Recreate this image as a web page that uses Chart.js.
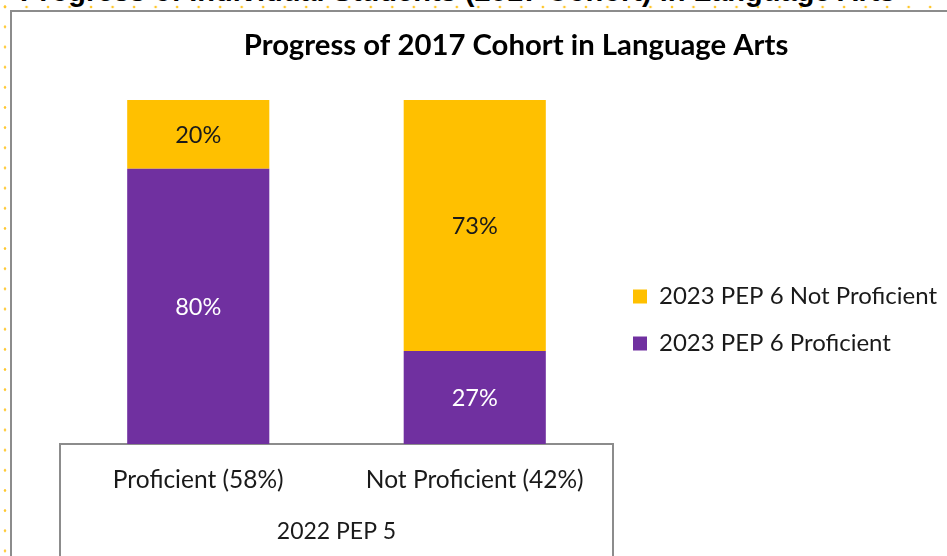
<!DOCTYPE html>
<html>
<head>
<meta charset="utf-8">
<script src="https://cdn.jsdelivr.net/npm/chart.js@4"></script>
<style>
html,body{margin:0;padding:0;background:#fff;width:947px;height:556px;overflow:hidden;}
#page{position:relative;width:947px;height:556px;overflow:hidden;}
#topText{position:absolute;left:20px;top:-23px;font:bold 29px "Liberation Sans",Arial,sans-serif;color:#000;white-space:nowrap;line-height:29px;}
#box{position:absolute;left:10px;top:10px;width:980px;height:600px;border-left:2px solid #8c8c8c;border-top:2px solid #8c8c8c;}
#dotsV{position:absolute;left:3px;top:0;width:4px;height:556px;background-image:radial-gradient(circle, #ffc72c 0.9px, rgba(255,199,44,0) 1.7px);background-size:4px 20.17px;background-position:0 -3.4px;}
#dotsH{position:absolute;left:0;top:5px;width:947px;height:4px;background-image:radial-gradient(circle, #ffc72c 0.9px, rgba(255,199,44,0) 1.7px);background-size:21.53px 4px;background-position:-5.77px 0;}
#c{position:absolute;left:0;top:0;}
</style>
</head>
<body>
<div id="page">
  <div id="dotsV"></div>
  <div id="dotsH"></div>
  <div id="topText">Progress of Individual Students (2017 Cohort) in Language Arts</div>
  <div id="box"></div>
  <canvas id="c" width="972" height="556"></canvas>
</div>
<script>
const categories = ["Proficient (58%)", "Not Proficient (42%)"];
const proficient2023 = [80, 27];
const notProficient2023 = [20, 73];
const seriesNames = ["2023 PEP 6 Proficient", "2023 PEP 6 Not Proficient"];
const groupLabel = "2022 PEP 5";
const chartTitle = "Progress of 2017 Cohort in Language Arts";

const valueLabels = {
  id: 'valueLabels',
  afterDatasetsDraw(chart) {
    const ctx = chart.ctx;
    chart.data.datasets.forEach((ds, i) => {
      const meta = chart.getDatasetMeta(i);
      meta.data.forEach((bar, j) => {
        const v = ds.data[j];
        const y = (bar.y + bar.base) / 2;
        ctx.save();
        ctx.font = '23.5px Lato';
        ctx.fillStyle = ds.labelColor;
        ctx.textAlign = 'center';
        ctx.textBaseline = 'middle';
        ctx.fillText(v + '%', bar.x, y + 1);
        ctx.restore();
      });
    });
  }
};

const axisBox = {
  id: 'axisBox',
  afterDraw(chart) {
    const x = chart.scales.x;
    const ctx = chart.ctx;
    ctx.save();
    ctx.strokeStyle = '#8c8c8c';
    ctx.lineWidth = 2;
    ctx.beginPath();
    [x.left, x.right].forEach(px => { ctx.moveTo(px, x.top - 1); ctx.lineTo(px, chart.height); });
    ctx.stroke();
    ctx.restore();
  }
};

const legendShift = {
  id: 'legendShift',
  afterLayout(chart) {
    const lg = chart.legend;
    lg.top += 42;
    lg.bottom += 42;
    lg.left -= 3;
    lg.right -= 3;
  }
};

function draw() {
  new Chart(document.getElementById('c'), {
    type: 'bar',
    data: {
      labels: categories,
      datasets: [
        { label: seriesNames[0], data: proficient2023, backgroundColor: '#7030A0', borderWidth: 0, labelColor: '#ffffff',
          barPercentage: 0.514, categoryPercentage: 1 },
        { label: seriesNames[1], data: notProficient2023, backgroundColor: '#FFC000', borderWidth: 0, labelColor: '#1a1a1a',
          barPercentage: 0.514, categoryPercentage: 1 }
      ]
    },
    options: {
      responsive: false,
      animation: false,
      devicePixelRatio: 1,
      layout: { padding: { left: 60, right: 0, top: 0, bottom: 0 } },
      plugins: {
        title: {
          display: true, text: chartTitle, color: '#000',
          font: { family: 'Lato', size: 29.3, weight: 'bold', lineHeight: 1.2 },
          padding: { top: 28.4, bottom: 36.4 }
        },
        legend: {
          position: 'right', reverse: true, maxWidth: 334,
          labels: { boxWidth: 14, boxHeight: 14, padding: 23, color: '#1a1a1a',
            font: { family: 'Lato', size: 24 } }
        },
        tooltip: { enabled: false }
      },
      scales: {
        x: {
          stacked: true,
          grid: { display: false, drawTicks: false },
          border: { display: true, color: '#8c8c8c', width: 2 },
          ticks: { color: '#1a1a1a', padding: 21.3, font: { family: 'Lato', size: 24.5, lineHeight: 1.2 } },
          title: { display: true, text: groupLabel, color: '#1a1a1a',
            font: { family: 'Lato', size: 23, lineHeight: 1.2 }, padding: { top: 2.2, bottom: 10.2 } }
        },
        y: { stacked: true, display: false, min: 0, max: 100 },
        spacer: {
          type: 'linear', position: 'right', weight: 2000, display: true,
          grid: { display: false, drawTicks: false }, border: { display: false },
          ticks: { display: false },
          afterFit(s) { s.width = 25; }
        }
      }
    },
    plugins: [valueLabels, axisBox, legendShift]
  });
}

Promise.all([
  document.fonts.load('bold 29px Lato'),
  document.fonts.load('24px Lato'),
  document.fonts.load('bold 29px "Liberation Sans"')
]).then(draw, draw);
</script>
</body>
</html>
